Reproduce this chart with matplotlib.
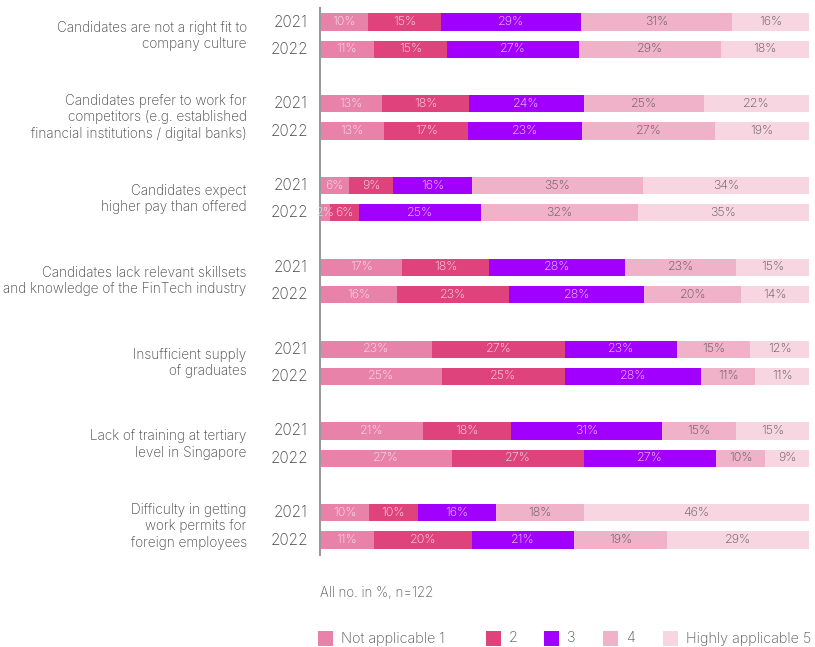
import matplotlib
matplotlib.use('Agg')
import matplotlib.pyplot as plt
from matplotlib.patches import Rectangle
import numpy as np

plt.rcParams['font.family'] = ['Inter', 'DejaVu Sans']
plt.rcParams['font.weight'] = 'light'

# survey data (all no. in %)
reasons = ['Candidates are not a right fit to\ncompany culture',
           'Candidates prefer to work for\ncompetitors (e.g. established\nfinancial institutions / digital banks)',
           'Candidates expect\nhigher pay than offered',
           'Candidates lack relevant skillsets\nand knowledge of the FinTech industry',
           'Insufficient supply\nof graduates',
           'Lack of training at tertiary\nlevel in Singapore',
           'Difficulty in getting\nwork permits for\nforeign employees']
years = ['2021', '2022']
levels = ['Not applicable 1', '2', '3', '4', 'Highly applicable 5']

vals_2021 = [[10, 15, 29, 31, 16],
             [13, 18, 24, 25, 22],
             [6, 9, 16, 35, 34],
             [17, 18, 28, 23, 15],
             [23, 27, 23, 15, 12],
             [21, 18, 31, 15, 15],
             [10, 10, 16, 18, 46]]
vals_2022 = [[11, 15, 27, 29, 18],
             [13, 17, 23, 27, 19],
             [2, 6, 25, 32, 35],
             [16, 23, 28, 20, 14],
             [25, 25, 28, 11, 11],
             [27, 27, 27, 10, 9],
             [11, 20, 21, 19, 29]]

colors = ['#E882A8', '#DE437B', '#A100FF', '#F0B2C8', '#F8D6E1']
txt_colors = ['#FBEAF1', '#FBEAF1', '#F3E0FF', '#555555', '#555555']

fig = plt.figure(figsize=(8.15, 6.47), dpi=100)
ax = fig.add_axes([320/815, 1-555/647, 489/815, (555-8.4)/647])

for g in range(len(reasons)):
    for k, rows in enumerate([vals_2021, vals_2022]):
        v = np.array(rows[g], dtype=float)
        w = v / v.sum() * 100
        y = g*3 - 0.5 + k
        left = 0
        for i in range(5):
            ax.barh(y, w[i], left=left, height=0.63, color=colors[i], linewidth=0)
            ax.text(left + w[i]/2, y, '%d%%' % v[i], ha='center', va='center',
                    fontsize=9, color=txt_colors[i])
            left += w[i]
        ax.text(-0.025, y, years[k], transform=ax.get_yaxis_transform(),
                ha='right', va='center', fontsize=11, color='#444444')
    ax.text(-0.15, g*3, reasons[g], transform=ax.get_yaxis_transform(),
            ha='right', va='center', fontsize=9.8, color='#444444', linespacing=1.2)

ax.set_xlim(0, 100)
ax.set_ylim(19.05, -1.0)
for s in ['top', 'right', 'bottom']:
    ax.spines[s].set_visible(False)
ax.spines['left'].set_color('#9a9a9a')
ax.spines['left'].set_linewidth(1.5)
ax.set_xticks([])
ax.set_yticks([])

fig.text(320/815, 1-593/647, 'All no. in %, n=122', fontsize=9.6, color='#555555',
         va='center', ha='left')

# legend
leg_x = [318, 486, 544, 603, 663]
for i in range(5):
    fig.add_artist(Rectangle((leg_x[i]/815, 1-646/647), 15/815, 15/647,
                             transform=fig.transFigure, color=colors[i], linewidth=0))
    fig.text((leg_x[i]+23)/815, 1-638.5/647, levels[i], fontsize=10.4, color='#555555',
             va='center', ha='left')

fig.savefig('out.png', dpi=100)
